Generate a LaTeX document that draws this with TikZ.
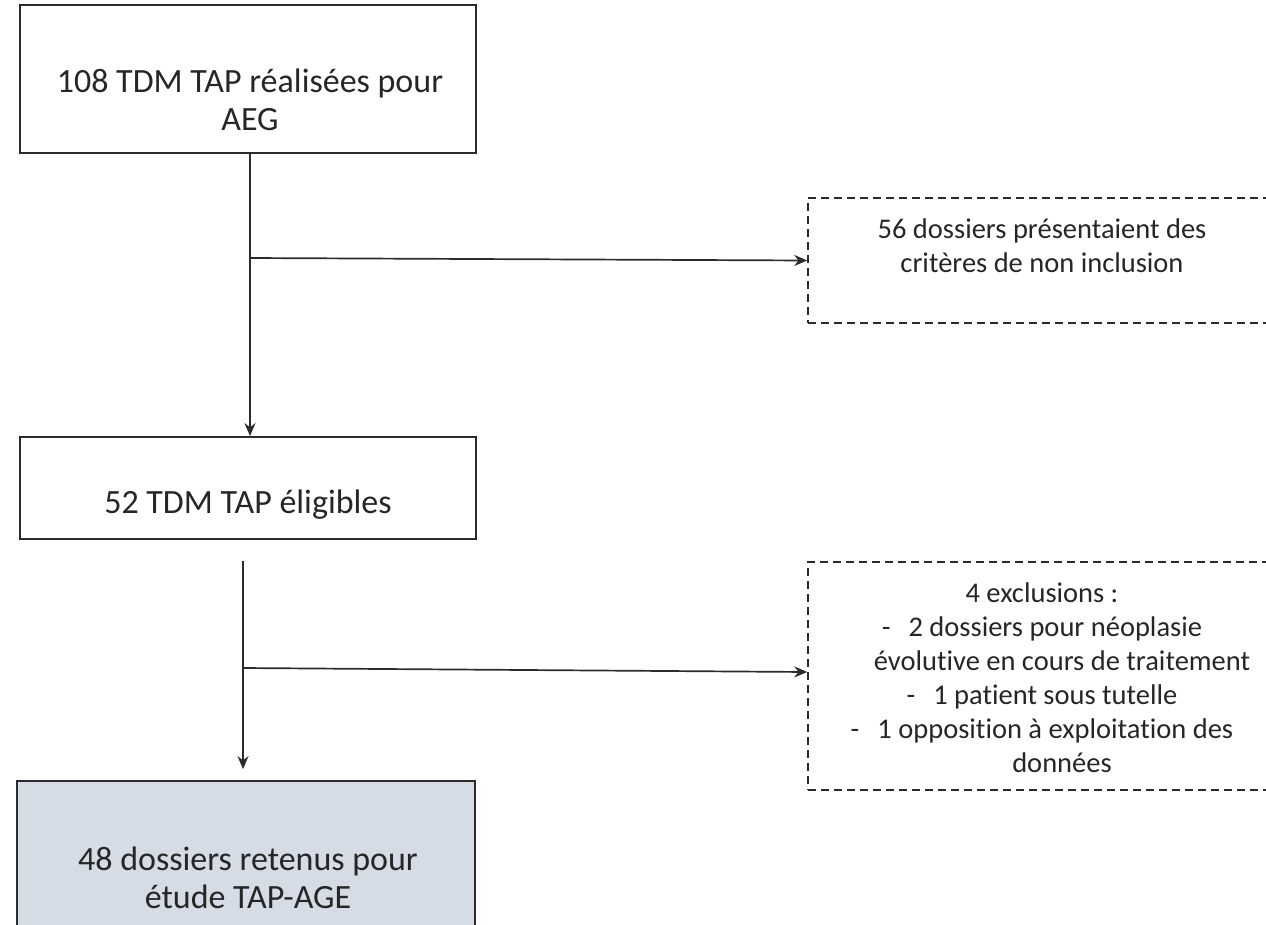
\documentclass[tikz,border=0pt]{standalone}
\usepackage{fontspec}
\setmainfont{Carlito}[Ligatures={NoCommon,NoRare,NoContextual}]
\usepackage{xcolor}
\usepackage{tikz}
\usetikzlibrary{arrows.meta,positioning,calc}
\definecolor{boxline}{HTML}{2B2B2B}
\definecolor{keptfill}{HTML}{D6DCE5}
\definecolor{txtgray}{HTML}{262626}

\begin{document}
\begin{tikzpicture}[x=1pt, y=-1pt,
    flowbox/.style={draw=boxline, line width=1.8pt, minimum width=456pt, inner sep=0pt},
    dashbox/.style={draw=boxline, line width=1.5pt, dash pattern=on 8pt off 5pt, minimum width=468pt, inner sep=0pt},
    boxtext/.style={align=center, text=txtgray, inner sep=0pt, font=\fontsize{34}{38}\selectfont},
    sidetext/.style={align=center, text=txtgray, inner sep=0pt, font=\fontsize{28.5}{34}\selectfont},
    conn/.style={-{Stealth[length=13pt,width=11pt]}, draw=boxline, line width=1.7pt}]
    \useasboundingbox (0,0) rectangle (1266,924);
    % main boxes
    \node[flowbox, minimum height=148pt] (tdm) at (248,79) {};
    \node[boxtext] (tdmtxt) at (250,100) {108 TDM TAP réalisées pour\\AEG};
    \node[flowbox, minimum height=102pt] (elig) at (248,488) {};
    \node[boxtext] (eligtxt) at (248,505) {52 TDM TAP éligibles};
    \node[flowbox, fill=keptfill, minimum width=458pt, minimum height=160pt] (kept) at (246,861) {};
    \node[boxtext] (kepttxt) at (248,878) {48 dossiers retenus pour\\étude TAP-AGE};
    % side boxes (dashed)
    \node[dashbox, minimum height=125pt] (nonincl) at (1042,260.5) {};
    \node[sidetext] (noninctxt) at (1042,246) {56 dossiers présentaient des\\critères de non inclusion};
    \node[dashbox, minimum height=228pt] (excl) at (1042,676) {};
    \node[sidetext] (excltxt) at (1042,678) {4 exclusions :\\
        -\hspace{18pt}2 dossiers pour néoplasie\\
        \hspace*{40pt}évolutive en cours de traitement\\
        -\hspace{18pt}1 patient sous tutelle\\
        -\hspace{18pt}1 opposition à exploitation des\\
        \hspace*{40pt}données};
    % connectors
    \coordinate (split1) at (250,258);
    \coordinate (split2) at (243,668);
    \draw[conn] (tdm.south -| split1) -- (elig.north -| split1);
    \draw[conn] (split1) -- (nonincl.west);
    \draw[conn] ([yshift=-21pt]elig.south -| split2) -- ([yshift=11pt]kept.north -| split2);
    \draw[conn] (split2) -- ([yshift=-4pt]split2 -| excl.west);
\end{tikzpicture}
\end{document}
